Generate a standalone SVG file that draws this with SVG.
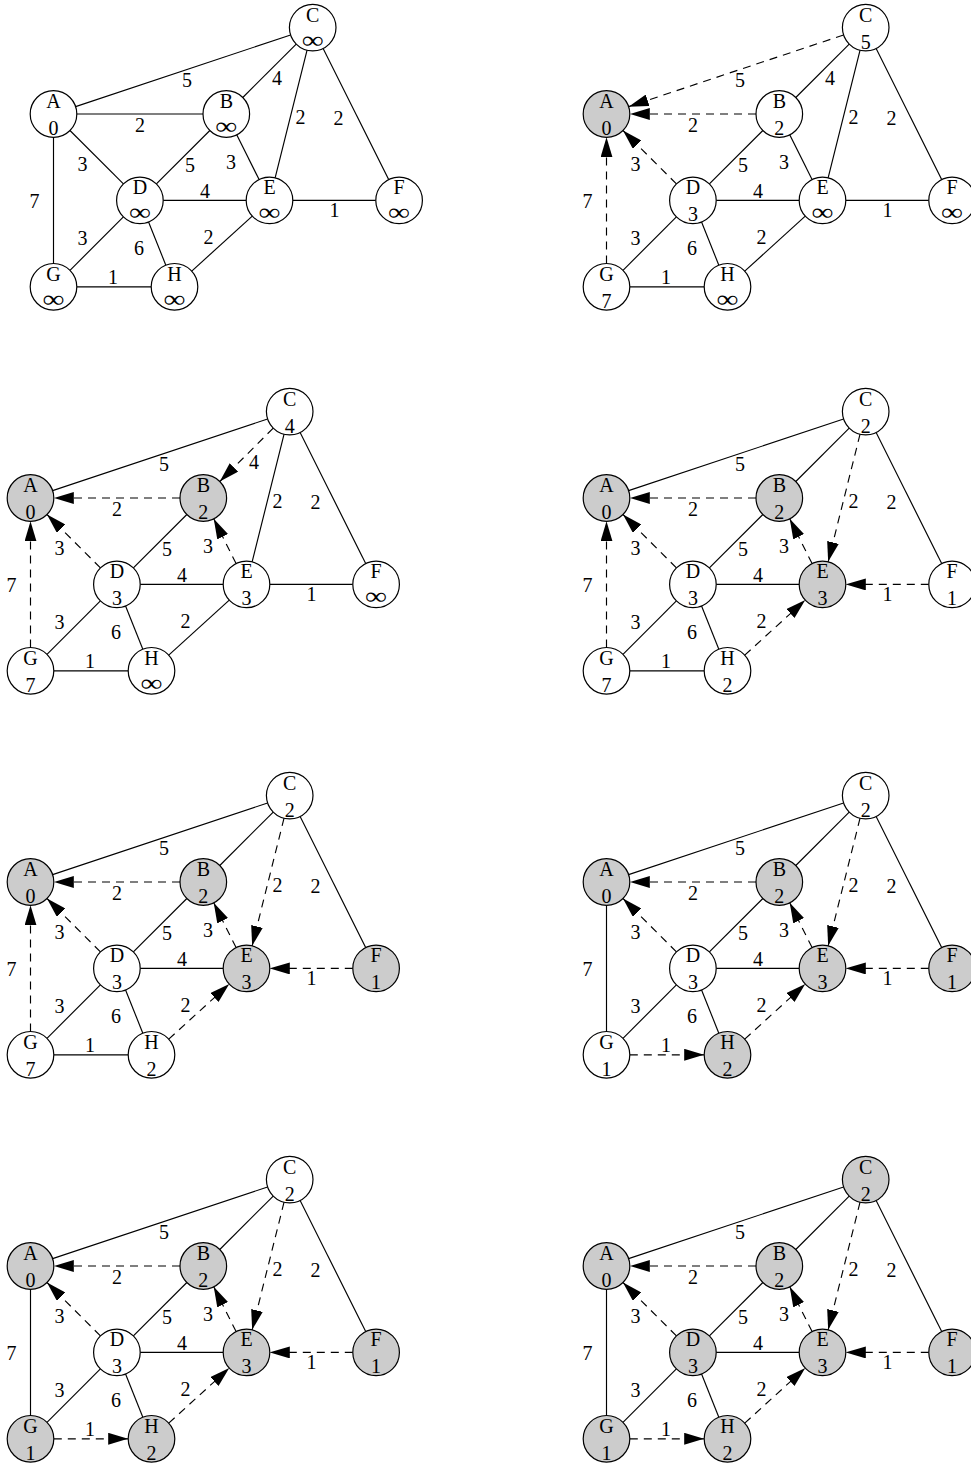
<svg xmlns="http://www.w3.org/2000/svg" width="971" height="1463" viewBox="0 0 971 1463">
<style>
text{font-family:"Liberation Serif","Times New Roman",serif;font-size:20px;text-anchor:middle;fill:#000}
.inf{font-size:24px}
.n circle{stroke:#000;stroke-width:1.2;fill:#fff}
.g circle{fill:#cccccc}
.e line{stroke:#000;stroke-width:1.15;fill:none}
.e line.d{stroke-dasharray:8 6;marker-end:url(#ah)}
</style>
<defs>
<marker id="ah" viewBox="0 0 20 12" refX="20" refY="6" markerWidth="20" markerHeight="12" markerUnits="userSpaceOnUse" orient="auto"><path d="M0,0 L20,6 L0,12 z" fill="#000"/></marker>
</defs>
<rect width="971" height="1463" fill="#fff"/>

<!-- Panel 1 -->
<g id="panel1" transform="translate(0,0)">
<g id="p1-connectors" class="e">
<line x1="290.6" y1="34.97" x2="75.6" y2="106.63"/>
<line x1="203" y1="114" x2="76.8" y2="114"/>
<line x1="296.23" y1="44.08" x2="242.78" y2="97.53"/>
<line x1="307.05" y1="50.2" x2="275.15" y2="177.8"/>
<line x1="323.12" y1="48.44" x2="388.68" y2="179.56"/>
<line x1="123.43" y1="183.93" x2="69.98" y2="130.48"/>
<line x1="209.83" y1="130.48" x2="156.38" y2="183.93"/>
<line x1="259.08" y1="179.56" x2="236.72" y2="134.84"/>
<line x1="53.5" y1="263.5" x2="53.5" y2="137.3"/>
<line x1="163.2" y1="200.4" x2="246.2" y2="200.4"/>
<line x1="375.8" y1="200.4" x2="292.8" y2="200.4"/>
<line x1="123.43" y1="216.88" x2="69.98" y2="270.33"/>
<line x1="148.56" y1="222.03" x2="165.84" y2="265.17"/>
<line x1="191.74" y1="271.12" x2="252.26" y2="216.08"/>
<line x1="76.8" y1="286.8" x2="151.2" y2="286.8"/>
</g>
<g id="p1-labels">
<text x="187" y="87">5</text><text x="140" y="132">2</text><text x="277" y="85">4</text><text x="300.5" y="124">2</text><text x="338.5" y="125">2</text><text x="82.5" y="171">3</text><text x="190" y="172">5</text><text x="231" y="169">3</text><text x="34.5" y="208">7</text><text x="205" y="198">4</text><text x="334.5" y="217">1</text><text x="82.5" y="245">3</text><text x="139" y="255">6</text><text x="208.5" y="244">2</text><text x="113" y="284">1</text>
</g>
<g id="p1-A" class="n"><circle cx="53.5" cy="114" r="23.3"/><text x="53.5" y="108">A</text><text x="53.5" y="135">0</text></g>
<g id="p1-B" class="n"><circle cx="226.3" cy="114" r="23.3"/><text x="226.3" y="108">B</text><text class="inf" x="226.3" y="134" textLength="22" lengthAdjust="spacingAndGlyphs">∞</text></g>
<g id="p1-C" class="n"><circle cx="312.7" cy="27.6" r="23.3"/><text x="312.7" y="21.6">C</text><text class="inf" x="312.7" y="47.6" textLength="22" lengthAdjust="spacingAndGlyphs">∞</text></g>
<g id="p1-D" class="n"><circle cx="139.9" cy="200.4" r="23.3"/><text x="139.9" y="194.4">D</text><text class="inf" x="139.9" y="220.4" textLength="22" lengthAdjust="spacingAndGlyphs">∞</text></g>
<g id="p1-E" class="n"><circle cx="269.5" cy="200.4" r="23.3"/><text x="269.5" y="194.4">E</text><text class="inf" x="269.5" y="220.4" textLength="22" lengthAdjust="spacingAndGlyphs">∞</text></g>
<g id="p1-F" class="n"><circle cx="399.1" cy="200.4" r="23.3"/><text x="399.1" y="194.4">F</text><text class="inf" x="399.1" y="220.4" textLength="22" lengthAdjust="spacingAndGlyphs">∞</text></g>
<g id="p1-G" class="n"><circle cx="53.5" cy="286.8" r="23.3"/><text x="53.5" y="280.8">G</text><text class="inf" x="53.5" y="306.8" textLength="22" lengthAdjust="spacingAndGlyphs">∞</text></g>
<g id="p1-H" class="n"><circle cx="174.5" cy="286.8" r="23.3"/><text x="174.5" y="280.8">H</text><text class="inf" x="174.5" y="306.8" textLength="22" lengthAdjust="spacingAndGlyphs">∞</text></g>
</g>

<!-- Panel 2 -->
<g id="panel2" transform="translate(553,0)">
<g id="p2-connectors" class="e">
<line class="d" x1="290.6" y1="34.97" x2="75.6" y2="106.63"/>
<line class="d" x1="203" y1="114" x2="76.8" y2="114"/>
<line x1="296.23" y1="44.08" x2="242.78" y2="97.53"/>
<line x1="307.05" y1="50.2" x2="275.15" y2="177.8"/>
<line x1="323.12" y1="48.44" x2="388.68" y2="179.56"/>
<line class="d" x1="123.43" y1="183.93" x2="69.98" y2="130.48"/>
<line x1="209.83" y1="130.48" x2="156.38" y2="183.93"/>
<line x1="259.08" y1="179.56" x2="236.72" y2="134.84"/>
<line class="d" x1="53.5" y1="263.5" x2="53.5" y2="137.3"/>
<line x1="163.2" y1="200.4" x2="246.2" y2="200.4"/>
<line x1="375.8" y1="200.4" x2="292.8" y2="200.4"/>
<line x1="123.43" y1="216.88" x2="69.98" y2="270.33"/>
<line x1="148.56" y1="222.03" x2="165.84" y2="265.17"/>
<line x1="191.74" y1="271.12" x2="252.26" y2="216.08"/>
<line x1="76.8" y1="286.8" x2="151.2" y2="286.8"/>
</g>
<g id="p2-labels">
<text x="187" y="87">5</text><text x="140" y="132">2</text><text x="277" y="85">4</text><text x="300.5" y="124">2</text><text x="338.5" y="125">2</text><text x="82.5" y="171">3</text><text x="190" y="172">5</text><text x="231" y="169">3</text><text x="34.5" y="208">7</text><text x="205" y="198">4</text><text x="334.5" y="217">1</text><text x="82.5" y="245">3</text><text x="139" y="255">6</text><text x="208.5" y="244">2</text><text x="113" y="284">1</text>
</g>
<g id="p2-A" class="n g"><circle cx="53.5" cy="114" r="23.3"/><text x="53.5" y="108">A</text><text x="53.5" y="135">0</text></g>
<g id="p2-B" class="n"><circle cx="226.3" cy="114" r="23.3"/><text x="226.3" y="108">B</text><text x="226.3" y="135">2</text></g>
<g id="p2-C" class="n"><circle cx="312.7" cy="27.6" r="23.3"/><text x="312.7" y="21.6">C</text><text x="312.7" y="48.6">5</text></g>
<g id="p2-D" class="n"><circle cx="139.9" cy="200.4" r="23.3"/><text x="139.9" y="194.4">D</text><text x="139.9" y="221.4">3</text></g>
<g id="p2-E" class="n"><circle cx="269.5" cy="200.4" r="23.3"/><text x="269.5" y="194.4">E</text><text class="inf" x="269.5" y="220.4" textLength="22" lengthAdjust="spacingAndGlyphs">∞</text></g>
<g id="p2-F" class="n"><circle cx="399.1" cy="200.4" r="23.3"/><text x="399.1" y="194.4">F</text><text class="inf" x="399.1" y="220.4" textLength="22" lengthAdjust="spacingAndGlyphs">∞</text></g>
<g id="p2-G" class="n"><circle cx="53.5" cy="286.8" r="23.3"/><text x="53.5" y="280.8">G</text><text x="53.5" y="307.8">7</text></g>
<g id="p2-H" class="n"><circle cx="174.5" cy="286.8" r="23.3"/><text x="174.5" y="280.8">H</text><text class="inf" x="174.5" y="306.8" textLength="22" lengthAdjust="spacingAndGlyphs">∞</text></g>
</g>

<!-- Panel 3 -->
<g id="panel3" transform="translate(-23,384)">
<g id="p3-connectors" class="e">
<line x1="290.6" y1="34.97" x2="75.6" y2="106.63"/>
<line class="d" x1="203" y1="114" x2="76.8" y2="114"/>
<line class="d" x1="296.23" y1="44.08" x2="242.78" y2="97.53"/>
<line x1="307.05" y1="50.2" x2="275.15" y2="177.8"/>
<line x1="323.12" y1="48.44" x2="388.68" y2="179.56"/>
<line class="d" x1="123.43" y1="183.93" x2="69.98" y2="130.48"/>
<line x1="209.83" y1="130.48" x2="156.38" y2="183.93"/>
<line class="d" x1="259.08" y1="179.56" x2="236.72" y2="134.84"/>
<line class="d" x1="53.5" y1="263.5" x2="53.5" y2="137.3"/>
<line x1="163.2" y1="200.4" x2="246.2" y2="200.4"/>
<line x1="375.8" y1="200.4" x2="292.8" y2="200.4"/>
<line x1="123.43" y1="216.88" x2="69.98" y2="270.33"/>
<line x1="148.56" y1="222.03" x2="165.84" y2="265.17"/>
<line x1="191.74" y1="271.12" x2="252.26" y2="216.08"/>
<line x1="76.8" y1="286.8" x2="151.2" y2="286.8"/>
</g>
<g id="p3-labels">
<text x="187" y="87">5</text><text x="140" y="132">2</text><text x="277" y="85">4</text><text x="300.5" y="124">2</text><text x="338.5" y="125">2</text><text x="82.5" y="171">3</text><text x="190" y="172">5</text><text x="231" y="169">3</text><text x="34.5" y="208">7</text><text x="205" y="198">4</text><text x="334.5" y="217">1</text><text x="82.5" y="245">3</text><text x="139" y="255">6</text><text x="208.5" y="244">2</text><text x="113" y="284">1</text>
</g>
<g id="p3-A" class="n g"><circle cx="53.5" cy="114" r="23.3"/><text x="53.5" y="108">A</text><text x="53.5" y="135">0</text></g>
<g id="p3-B" class="n g"><circle cx="226.3" cy="114" r="23.3"/><text x="226.3" y="108">B</text><text x="226.3" y="135">2</text></g>
<g id="p3-C" class="n"><circle cx="312.7" cy="27.6" r="23.3"/><text x="312.7" y="21.6">C</text><text x="312.7" y="48.6">4</text></g>
<g id="p3-D" class="n"><circle cx="139.9" cy="200.4" r="23.3"/><text x="139.9" y="194.4">D</text><text x="139.9" y="221.4">3</text></g>
<g id="p3-E" class="n"><circle cx="269.5" cy="200.4" r="23.3"/><text x="269.5" y="194.4">E</text><text x="269.5" y="221.4">3</text></g>
<g id="p3-F" class="n"><circle cx="399.1" cy="200.4" r="23.3"/><text x="399.1" y="194.4">F</text><text class="inf" x="399.1" y="220.4" textLength="22" lengthAdjust="spacingAndGlyphs">∞</text></g>
<g id="p3-G" class="n"><circle cx="53.5" cy="286.8" r="23.3"/><text x="53.5" y="280.8">G</text><text x="53.5" y="307.8">7</text></g>
<g id="p3-H" class="n"><circle cx="174.5" cy="286.8" r="23.3"/><text x="174.5" y="280.8">H</text><text class="inf" x="174.5" y="306.8" textLength="22" lengthAdjust="spacingAndGlyphs">∞</text></g>
</g>

<!-- Panel 4 -->
<g id="panel4" transform="translate(553,384)">
<g id="p4-connectors" class="e">
<line x1="290.6" y1="34.97" x2="75.6" y2="106.63"/>
<line class="d" x1="203" y1="114" x2="76.8" y2="114"/>
<line x1="296.23" y1="44.08" x2="242.78" y2="97.53"/>
<line class="d" x1="307.05" y1="50.2" x2="275.15" y2="177.8"/>
<line x1="323.12" y1="48.44" x2="388.68" y2="179.56"/>
<line class="d" x1="123.43" y1="183.93" x2="69.98" y2="130.48"/>
<line x1="209.83" y1="130.48" x2="156.38" y2="183.93"/>
<line class="d" x1="259.08" y1="179.56" x2="236.72" y2="134.84"/>
<line class="d" x1="53.5" y1="263.5" x2="53.5" y2="137.3"/>
<line x1="163.2" y1="200.4" x2="246.2" y2="200.4"/>
<line class="d" x1="375.8" y1="200.4" x2="292.8" y2="200.4"/>
<line x1="123.43" y1="216.88" x2="69.98" y2="270.33"/>
<line x1="148.56" y1="222.03" x2="165.84" y2="265.17"/>
<line class="d" x1="191.74" y1="271.12" x2="252.26" y2="216.08"/>
<line x1="76.8" y1="286.8" x2="151.2" y2="286.8"/>
</g>
<g id="p4-labels">
<text x="187" y="87">5</text><text x="140" y="132">2</text><text x="300.5" y="124">2</text><text x="338.5" y="125">2</text><text x="82.5" y="171">3</text><text x="190" y="172">5</text><text x="231" y="169">3</text><text x="34.5" y="208">7</text><text x="205" y="198">4</text><text x="334.5" y="217">1</text><text x="82.5" y="245">3</text><text x="139" y="255">6</text><text x="208.5" y="244">2</text><text x="113" y="284">1</text>
</g>
<g id="p4-A" class="n g"><circle cx="53.5" cy="114" r="23.3"/><text x="53.5" y="108">A</text><text x="53.5" y="135">0</text></g>
<g id="p4-B" class="n g"><circle cx="226.3" cy="114" r="23.3"/><text x="226.3" y="108">B</text><text x="226.3" y="135">2</text></g>
<g id="p4-C" class="n"><circle cx="312.7" cy="27.6" r="23.3"/><text x="312.7" y="21.6">C</text><text x="312.7" y="48.6">2</text></g>
<g id="p4-D" class="n"><circle cx="139.9" cy="200.4" r="23.3"/><text x="139.9" y="194.4">D</text><text x="139.9" y="221.4">3</text></g>
<g id="p4-E" class="n g"><circle cx="269.5" cy="200.4" r="23.3"/><text x="269.5" y="194.4">E</text><text x="269.5" y="221.4">3</text></g>
<g id="p4-F" class="n"><circle cx="399.1" cy="200.4" r="23.3"/><text x="399.1" y="194.4">F</text><text x="399.1" y="221.4">1</text></g>
<g id="p4-G" class="n"><circle cx="53.5" cy="286.8" r="23.3"/><text x="53.5" y="280.8">G</text><text x="53.5" y="307.8">7</text></g>
<g id="p4-H" class="n"><circle cx="174.5" cy="286.8" r="23.3"/><text x="174.5" y="280.8">H</text><text x="174.5" y="307.8">2</text></g>
</g>

<!-- Panel 5 -->
<g id="panel5" transform="translate(-23,768)">
<g id="p5-connectors" class="e">
<line x1="290.6" y1="34.97" x2="75.6" y2="106.63"/>
<line class="d" x1="203" y1="114" x2="76.8" y2="114"/>
<line x1="296.23" y1="44.08" x2="242.78" y2="97.53"/>
<line class="d" x1="307.05" y1="50.2" x2="275.15" y2="177.8"/>
<line x1="323.12" y1="48.44" x2="388.68" y2="179.56"/>
<line class="d" x1="123.43" y1="183.93" x2="69.98" y2="130.48"/>
<line x1="209.83" y1="130.48" x2="156.38" y2="183.93"/>
<line class="d" x1="259.08" y1="179.56" x2="236.72" y2="134.84"/>
<line class="d" x1="53.5" y1="263.5" x2="53.5" y2="137.3"/>
<line x1="163.2" y1="200.4" x2="246.2" y2="200.4"/>
<line class="d" x1="375.8" y1="200.4" x2="292.8" y2="200.4"/>
<line x1="123.43" y1="216.88" x2="69.98" y2="270.33"/>
<line x1="148.56" y1="222.03" x2="165.84" y2="265.17"/>
<line class="d" x1="191.74" y1="271.12" x2="252.26" y2="216.08"/>
<line x1="76.8" y1="286.8" x2="151.2" y2="286.8"/>
</g>
<g id="p5-labels">
<text x="187" y="87">5</text><text x="140" y="132">2</text><text x="300.5" y="124">2</text><text x="338.5" y="125">2</text><text x="82.5" y="171">3</text><text x="190" y="172">5</text><text x="231" y="169">3</text><text x="34.5" y="208">7</text><text x="205" y="198">4</text><text x="334.5" y="217">1</text><text x="82.5" y="245">3</text><text x="139" y="255">6</text><text x="208.5" y="244">2</text><text x="113" y="284">1</text>
</g>
<g id="p5-A" class="n g"><circle cx="53.5" cy="114" r="23.3"/><text x="53.5" y="108">A</text><text x="53.5" y="135">0</text></g>
<g id="p5-B" class="n g"><circle cx="226.3" cy="114" r="23.3"/><text x="226.3" y="108">B</text><text x="226.3" y="135">2</text></g>
<g id="p5-C" class="n"><circle cx="312.7" cy="27.6" r="23.3"/><text x="312.7" y="21.6">C</text><text x="312.7" y="48.6">2</text></g>
<g id="p5-D" class="n"><circle cx="139.9" cy="200.4" r="23.3"/><text x="139.9" y="194.4">D</text><text x="139.9" y="221.4">3</text></g>
<g id="p5-E" class="n g"><circle cx="269.5" cy="200.4" r="23.3"/><text x="269.5" y="194.4">E</text><text x="269.5" y="221.4">3</text></g>
<g id="p5-F" class="n g"><circle cx="399.1" cy="200.4" r="23.3"/><text x="399.1" y="194.4">F</text><text x="399.1" y="221.4">1</text></g>
<g id="p5-G" class="n"><circle cx="53.5" cy="286.8" r="23.3"/><text x="53.5" y="280.8">G</text><text x="53.5" y="307.8">7</text></g>
<g id="p5-H" class="n"><circle cx="174.5" cy="286.8" r="23.3"/><text x="174.5" y="280.8">H</text><text x="174.5" y="307.8">2</text></g>
</g>

<!-- Panel 6 -->
<g id="panel6" transform="translate(553,768)">
<g id="p6-connectors" class="e">
<line x1="290.6" y1="34.97" x2="75.6" y2="106.63"/>
<line class="d" x1="203" y1="114" x2="76.8" y2="114"/>
<line x1="296.23" y1="44.08" x2="242.78" y2="97.53"/>
<line class="d" x1="307.05" y1="50.2" x2="275.15" y2="177.8"/>
<line x1="323.12" y1="48.44" x2="388.68" y2="179.56"/>
<line class="d" x1="123.43" y1="183.93" x2="69.98" y2="130.48"/>
<line x1="209.83" y1="130.48" x2="156.38" y2="183.93"/>
<line class="d" x1="259.08" y1="179.56" x2="236.72" y2="134.84"/>
<line x1="53.5" y1="263.5" x2="53.5" y2="137.3"/>
<line x1="163.2" y1="200.4" x2="246.2" y2="200.4"/>
<line class="d" x1="375.8" y1="200.4" x2="292.8" y2="200.4"/>
<line x1="123.43" y1="216.88" x2="69.98" y2="270.33"/>
<line x1="148.56" y1="222.03" x2="165.84" y2="265.17"/>
<line class="d" x1="191.74" y1="271.12" x2="252.26" y2="216.08"/>
<line class="d" x1="76.8" y1="286.8" x2="151.2" y2="286.8"/>
</g>
<g id="p6-labels">
<text x="187" y="87">5</text><text x="140" y="132">2</text><text x="300.5" y="124">2</text><text x="338.5" y="125">2</text><text x="82.5" y="171">3</text><text x="190" y="172">5</text><text x="231" y="169">3</text><text x="34.5" y="208">7</text><text x="205" y="198">4</text><text x="334.5" y="217">1</text><text x="82.5" y="245">3</text><text x="139" y="255">6</text><text x="208.5" y="244">2</text><text x="113" y="284">1</text>
</g>
<g id="p6-A" class="n g"><circle cx="53.5" cy="114" r="23.3"/><text x="53.5" y="108">A</text><text x="53.5" y="135">0</text></g>
<g id="p6-B" class="n g"><circle cx="226.3" cy="114" r="23.3"/><text x="226.3" y="108">B</text><text x="226.3" y="135">2</text></g>
<g id="p6-C" class="n"><circle cx="312.7" cy="27.6" r="23.3"/><text x="312.7" y="21.6">C</text><text x="312.7" y="48.6">2</text></g>
<g id="p6-D" class="n"><circle cx="139.9" cy="200.4" r="23.3"/><text x="139.9" y="194.4">D</text><text x="139.9" y="221.4">3</text></g>
<g id="p6-E" class="n g"><circle cx="269.5" cy="200.4" r="23.3"/><text x="269.5" y="194.4">E</text><text x="269.5" y="221.4">3</text></g>
<g id="p6-F" class="n g"><circle cx="399.1" cy="200.4" r="23.3"/><text x="399.1" y="194.4">F</text><text x="399.1" y="221.4">1</text></g>
<g id="p6-G" class="n"><circle cx="53.5" cy="286.8" r="23.3"/><text x="53.5" y="280.8">G</text><text x="53.5" y="307.8">1</text></g>
<g id="p6-H" class="n g"><circle cx="174.5" cy="286.8" r="23.3"/><text x="174.5" y="280.8">H</text><text x="174.5" y="307.8">2</text></g>
</g>

<!-- Panel 7 -->
<g id="panel7" transform="translate(-23,1152)">
<g id="p7-connectors" class="e">
<line x1="290.6" y1="34.97" x2="75.6" y2="106.63"/>
<line class="d" x1="203" y1="114" x2="76.8" y2="114"/>
<line x1="296.23" y1="44.08" x2="242.78" y2="97.53"/>
<line class="d" x1="307.05" y1="50.2" x2="275.15" y2="177.8"/>
<line x1="323.12" y1="48.44" x2="388.68" y2="179.56"/>
<line class="d" x1="123.43" y1="183.93" x2="69.98" y2="130.48"/>
<line x1="209.83" y1="130.48" x2="156.38" y2="183.93"/>
<line class="d" x1="259.08" y1="179.56" x2="236.72" y2="134.84"/>
<line x1="53.5" y1="263.5" x2="53.5" y2="137.3"/>
<line x1="163.2" y1="200.4" x2="246.2" y2="200.4"/>
<line class="d" x1="375.8" y1="200.4" x2="292.8" y2="200.4"/>
<line x1="123.43" y1="216.88" x2="69.98" y2="270.33"/>
<line x1="148.56" y1="222.03" x2="165.84" y2="265.17"/>
<line class="d" x1="191.74" y1="271.12" x2="252.26" y2="216.08"/>
<line class="d" x1="76.8" y1="286.8" x2="151.2" y2="286.8"/>
</g>
<g id="p7-labels">
<text x="187" y="87">5</text><text x="140" y="132">2</text><text x="300.5" y="124">2</text><text x="338.5" y="125">2</text><text x="82.5" y="171">3</text><text x="190" y="172">5</text><text x="231" y="169">3</text><text x="34.5" y="208">7</text><text x="205" y="198">4</text><text x="334.5" y="217">1</text><text x="82.5" y="245">3</text><text x="139" y="255">6</text><text x="208.5" y="244">2</text><text x="113" y="284">1</text>
</g>
<g id="p7-A" class="n g"><circle cx="53.5" cy="114" r="23.3"/><text x="53.5" y="108">A</text><text x="53.5" y="135">0</text></g>
<g id="p7-B" class="n g"><circle cx="226.3" cy="114" r="23.3"/><text x="226.3" y="108">B</text><text x="226.3" y="135">2</text></g>
<g id="p7-C" class="n"><circle cx="312.7" cy="27.6" r="23.3"/><text x="312.7" y="21.6">C</text><text x="312.7" y="48.6">2</text></g>
<g id="p7-D" class="n"><circle cx="139.9" cy="200.4" r="23.3"/><text x="139.9" y="194.4">D</text><text x="139.9" y="221.4">3</text></g>
<g id="p7-E" class="n g"><circle cx="269.5" cy="200.4" r="23.3"/><text x="269.5" y="194.4">E</text><text x="269.5" y="221.4">3</text></g>
<g id="p7-F" class="n g"><circle cx="399.1" cy="200.4" r="23.3"/><text x="399.1" y="194.4">F</text><text x="399.1" y="221.4">1</text></g>
<g id="p7-G" class="n g"><circle cx="53.5" cy="286.8" r="23.3"/><text x="53.5" y="280.8">G</text><text x="53.5" y="307.8">1</text></g>
<g id="p7-H" class="n g"><circle cx="174.5" cy="286.8" r="23.3"/><text x="174.5" y="280.8">H</text><text x="174.5" y="307.8">2</text></g>
</g>

<!-- Panel 8 -->
<g id="panel8" transform="translate(553,1152)">
<g id="p8-connectors" class="e">
<line x1="290.6" y1="34.97" x2="75.6" y2="106.63"/>
<line class="d" x1="203" y1="114" x2="76.8" y2="114"/>
<line x1="296.23" y1="44.08" x2="242.78" y2="97.53"/>
<line class="d" x1="307.05" y1="50.2" x2="275.15" y2="177.8"/>
<line x1="323.12" y1="48.44" x2="388.68" y2="179.56"/>
<line class="d" x1="123.43" y1="183.93" x2="69.98" y2="130.48"/>
<line x1="209.83" y1="130.48" x2="156.38" y2="183.93"/>
<line class="d" x1="259.08" y1="179.56" x2="236.72" y2="134.84"/>
<line x1="53.5" y1="263.5" x2="53.5" y2="137.3"/>
<line x1="163.2" y1="200.4" x2="246.2" y2="200.4"/>
<line class="d" x1="375.8" y1="200.4" x2="292.8" y2="200.4"/>
<line x1="123.43" y1="216.88" x2="69.98" y2="270.33"/>
<line x1="148.56" y1="222.03" x2="165.84" y2="265.17"/>
<line class="d" x1="191.74" y1="271.12" x2="252.26" y2="216.08"/>
<line class="d" x1="76.8" y1="286.8" x2="151.2" y2="286.8"/>
</g>
<g id="p8-labels">
<text x="187" y="87">5</text><text x="140" y="132">2</text><text x="300.5" y="124">2</text><text x="338.5" y="125">2</text><text x="82.5" y="171">3</text><text x="190" y="172">5</text><text x="231" y="169">3</text><text x="34.5" y="208">7</text><text x="205" y="198">4</text><text x="334.5" y="217">1</text><text x="82.5" y="245">3</text><text x="139" y="255">6</text><text x="208.5" y="244">2</text><text x="113" y="284">1</text>
</g>
<g id="p8-A" class="n g"><circle cx="53.5" cy="114" r="23.3"/><text x="53.5" y="108">A</text><text x="53.5" y="135">0</text></g>
<g id="p8-B" class="n g"><circle cx="226.3" cy="114" r="23.3"/><text x="226.3" y="108">B</text><text x="226.3" y="135">2</text></g>
<g id="p8-C" class="n g"><circle cx="312.7" cy="27.6" r="23.3"/><text x="312.7" y="21.6">C</text><text x="312.7" y="48.6">2</text></g>
<g id="p8-D" class="n g"><circle cx="139.9" cy="200.4" r="23.3"/><text x="139.9" y="194.4">D</text><text x="139.9" y="221.4">3</text></g>
<g id="p8-E" class="n g"><circle cx="269.5" cy="200.4" r="23.3"/><text x="269.5" y="194.4">E</text><text x="269.5" y="221.4">3</text></g>
<g id="p8-F" class="n g"><circle cx="399.1" cy="200.4" r="23.3"/><text x="399.1" y="194.4">F</text><text x="399.1" y="221.4">1</text></g>
<g id="p8-G" class="n g"><circle cx="53.5" cy="286.8" r="23.3"/><text x="53.5" y="280.8">G</text><text x="53.5" y="307.8">1</text></g>
<g id="p8-H" class="n g"><circle cx="174.5" cy="286.8" r="23.3"/><text x="174.5" y="280.8">H</text><text x="174.5" y="307.8">2</text></g>
</g>
</svg>
